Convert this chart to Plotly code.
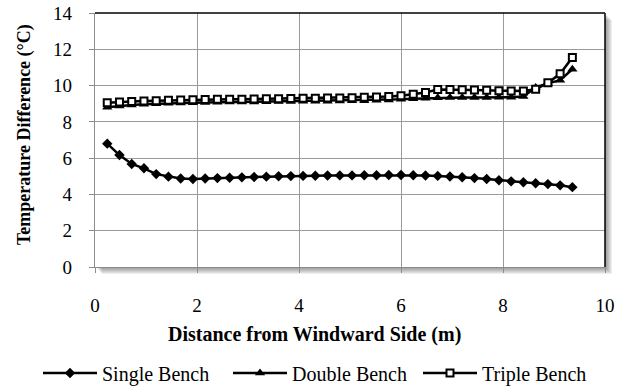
import plotly.graph_objects as go

# Distance from the windward side (m)
distance = [0.24, 0.48, 0.72, 0.96, 1.20, 1.44, 1.68, 1.92, 2.16, 2.40,
            2.64, 2.88, 3.12, 3.36, 3.60, 3.84, 4.08, 4.32, 4.56, 4.80,
            5.04, 5.28, 5.52, 5.76, 6.00, 6.24, 6.48, 6.72, 6.96, 7.20,
            7.44, 7.68, 7.92, 8.16, 8.40, 8.64, 8.88, 9.12, 9.36]

# Temperature difference (°C) for each bench layout
single_bench = [6.80, 6.17, 5.68, 5.44, 5.12, 4.98, 4.88, 4.85, 4.88, 4.90,
                4.92, 4.94, 4.96, 4.98, 5.00, 5.01, 5.02, 5.03, 5.04, 5.05,
                5.05, 5.06, 5.06, 5.07, 5.07, 5.06, 5.04, 5.02, 4.99, 4.95,
                4.90, 4.85, 4.78, 4.72, 4.67, 4.62, 4.57, 4.50, 4.40]

double_bench = [8.80, 8.88, 8.93, 8.97, 9.00, 9.02, 9.04, 9.06, 9.07, 9.08,
                9.09, 9.10, 9.10, 9.11, 9.12, 9.12, 9.13, 9.13, 9.14, 9.15,
                9.16, 9.17, 9.19, 9.21, 9.24, 9.28, 9.30, 9.33, 9.34, 9.34,
                9.34, 9.34, 9.35, 9.35, 9.40, 9.90, 10.12, 10.30, 10.90]

triple_bench = [9.05, 9.10, 9.12, 9.15, 9.17, 9.19, 9.20, 9.22, 9.23, 9.24,
                9.25, 9.25, 9.26, 9.27, 9.28, 9.29, 9.30, 9.30, 9.31, 9.32,
                9.33, 9.35, 9.37, 9.40, 9.44, 9.52, 9.62, 9.78, 9.78, 9.77,
                9.76, 9.74, 9.72, 9.70, 9.70, 9.80, 10.15, 10.65, 11.55]

x_ticks = [0, 2, 4, 6, 8, 10]
y_ticks = [0, 2, 4, 6, 8, 10, 12, 14]

FONT = "Times New Roman"
W, H = 633, 387
M_L, M_R, M_T, M_B = 95, 28, 13, 120
PW, PH = W - M_L - M_R, H - M_T - M_B

fig = go.Figure()

fig.add_trace(go.Scatter(
    x=distance, y=single_bench, name="Single Bench", mode="lines+markers",
    line=dict(color="black", width=2.5),
    marker=dict(symbol="diamond", size=8, color="black"),
))
fig.add_trace(go.Scatter(
    x=distance, y=double_bench, name="Double Bench", mode="lines+markers",
    line=dict(color="black", width=2.5),
    marker=dict(symbol="triangle-up", size=9, color="black"),
))
fig.add_trace(go.Scatter(
    x=distance, y=triple_bench, name="Triple Bench", mode="lines+markers",
    line=dict(color="black", width=2.5),
    marker=dict(symbol="square", size=7, color="white",
                line=dict(color="black", width=2)),
))

# soft drop shadow along the bottom and right edges of the plot area
shapes = []
for d in range(1, 8):
    shade = "rgba(0,0,0,0.065)"
    shapes.append(dict(
        type="rect", xref="paper", yref="paper", layer="below",
        x0=d / PW, x1=1 + d / PW, y0=-d / PH, y1=0,
        fillcolor=shade, line=dict(width=0),
    ))
    shapes.append(dict(
        type="rect", xref="paper", yref="paper", layer="below",
        x0=1, x1=1 + d / PW, y0=0, y1=1 - d / PH,
        fillcolor=shade, line=dict(width=0),
    ))
# dark frame on the top and right of the plot area
shapes.append(dict(type="line", xref="paper", yref="paper",
                   x0=0, x1=1, y0=1, y1=1, line=dict(color="black", width=1.5)))
shapes.append(dict(type="line", xref="paper", yref="paper",
                   x0=1, x1=1, y0=0, y1=1, line=dict(color="black", width=1.5)))

axis_common = dict(
    showgrid=True, gridcolor="#9a9a9a", gridwidth=1.2,
    showline=True, linecolor="#8c8c8c", linewidth=1.3,
    ticks="outside", ticklen=5, tickcolor="#8c8c8c", tickwidth=1.2,
    tickfont=dict(family=FONT, size=19, color="black"),
    zeroline=False, automargin=False,
)

fig.update_layout(
    width=W, height=H,
    margin=dict(l=M_L, r=M_R, t=M_T, b=M_B, autoexpand=False),
    paper_bgcolor="white", plot_bgcolor="white",
    font=dict(family=FONT, color="black"),
    xaxis=dict(range=[0, 10], tickvals=x_ticks, ticklabelstandoff=16, **axis_common),
    yaxis=dict(range=[0, 14], tickvals=y_ticks, ticklabelstandoff=13, **axis_common),
    shapes=shapes,
    showlegend=True,
    legend=dict(
        orientation="h",
        x=(38 - M_L) / PW, xanchor="left",
        y=-(373 - (M_T + PH)) / PH, yanchor="middle",
        font=dict(family=FONT, size=20, color="black"),
        itemwidth=54, entrywidth=121, bgcolor="rgba(0,0,0,0)",
    ),
    annotations=[
        dict(text="<b>Distance from Windward Side (m)</b>", xref="paper", yref="paper",
             x=(314 - M_L) / PW, y=-(334 - (M_T + PH)) / PH,
             xanchor="center", yanchor="middle", showarrow=False,
             font=dict(family=FONT, size=20, color="black")),
        dict(text="<b>Temperature Difference (°C)</b>", xref="paper", yref="paper",
             x=(24 - M_L) / PW, y=(M_T + PH - 135) / PH, textangle=-90,
             xanchor="center", yanchor="middle", showarrow=False,
             font=dict(family=FONT, size=18, color="black")),
    ],
)

fig.write_html("out.html")
